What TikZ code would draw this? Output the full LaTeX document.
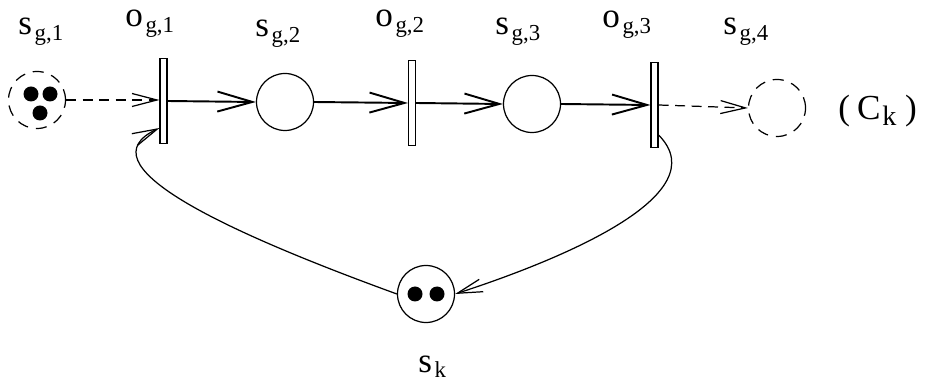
\documentclass[tikz,border=0pt]{standalone}
\usepackage{fontspec}
\setmainfont{Liberation Serif}
\newfontfamily\labfont{Liberation Serif}
\usetikzlibrary{arrows.meta}

\newcommand{\lbl}[2]{#1\kern1.5pt\raisebox{-3pt}{\fontsize{13}{13}\selectfont #2}}

\begin{document}
\begin{tikzpicture}[x=0.2mm, y=-0.2mm,
    place/.style={circle, draw, line width=0.7pt, minimum size=11.4mm, inner sep=0pt},
    dplace/.style={place, dash pattern=on 2.2mm off 1.6mm},
    trans/.style={rectangle, draw, line width=0.6pt, minimum width=1.4mm, minimum height=17mm, inner sep=0pt},
    tok/.style={circle, fill, minimum size=3mm, inner sep=0pt},
    flow/.style={line width=1.1pt, -{Straight Barb[length=7mm, width=4mm]}},
    link/.style={line width=0.7pt, -{Straight Barb[length=5mm, width=2.6mm]}},
    lab/.style={anchor=base west, inner sep=0pt, font=\labfont\fontsize{20}{24}\selectfont}]
        \useasboundingbox (0,0) rectangle (934,385);
        % places and transitions of the chain
        \node[dplace] (sg1) at (37,100) {};
        \node[trans] (og1) at (163.5,101) {};
        \node[place] (sg2) at (285,102) {};
        \node[trans] (og2) at (412,103) {};
        \node[place] (sg3) at (532,104) {};
        \node[trans] (og3) at (654.5,105) {};
        \node[dplace] (sg4) at (777,108) {};
        \node[place] (sk) at (426,294) {};
        % tokens
        \node[tok] (t1) at ([shift={(-6,-6)}]sg1) {};
        \node[tok] (t2) at ([shift={(13,-6)}]sg1) {};
        \node[tok] (t3) at ([shift={(3,13)}]sg1) {};
        \node[tok] (t4) at ([shift={(-11,0)}]sk) {};
        \node[tok] (t5) at ([shift={(11,0)}]sk) {};
        % labels
        \node[lab] (lsg1) at (18,35) {\lbl{s}{g,1}};
        \node[lab] (log1) at (125,27) {\lbl{o}{g,1}};
        \node[lab] (lsg2) at (255,37) {\lbl{s}{g,2}};
        \node[lab] (log2) at (375,27) {\lbl{o}{g,2}};
        \node[lab] (lsg3) at (495,35) {\lbl{s}{g,3}};
        \node[lab] (log3) at (602,28) {\lbl{o}{g,3}};
        \node[lab] (lsg4) at (723,35) {\lbl{s}{g,4}};
        \node[lab] (lsk) at (418,372) {\lbl{s}{k}};
        \node[lab] (ck) at (838,120) {(\kern4pt C\kern1pt\raisebox{-3pt}{\fontsize{16}{16}\selectfont k}\kern5pt)};
        % arcs
        \draw[link, dash pattern=on 2mm off 1.3mm] (sg1.east) -- (sg1.east -| og1.west);
        \draw[flow] (og1.east) -- (sg2.west);
        \draw[flow] (sg2.east) -- (og2.west);
        \draw[flow] (og2.east) -- (sg3.west);
        \draw[flow] (sg3.east) -- (og3.west);
        \draw[link, dash pattern=on 2mm off 1.3mm] (og3.east) -- (sg4.west);
        % resource loop
        \draw[link] ([yshift=-6mm]og3.east) to[out=-45, in=18, out distance=17mm, in distance=22mm] (sk.east);
        \draw[link] (sk.west) to[out=160, in=205, out distance=38mm, in distance=17mm] ([yshift=-5.4mm]og1.west);
    \end{tikzpicture}
\end{document}
